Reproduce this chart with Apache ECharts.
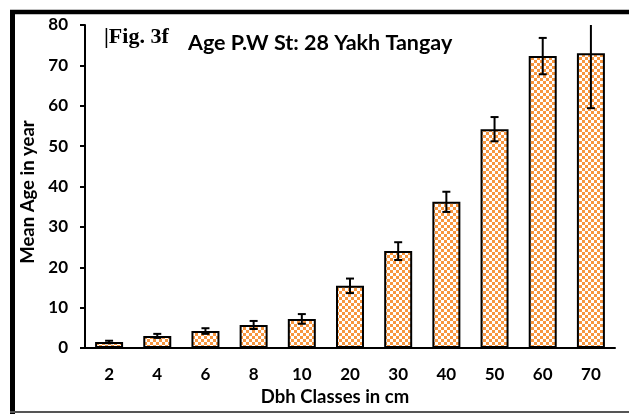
<!DOCTYPE html>
<html>
<head>
<meta charset="utf-8">
<script src="https://cdn.jsdelivr.net/npm/echarts@6/dist/echarts.min.js"></script>
<style>
html, body { margin: 0; padding: 0; background: #fff; }
#main { width: 629px; height: 414px; }
</style>
</head>
<body>
<div id="main"></div>
<script>
var classes = ['2', '4', '6', '8', '10', '20', '30', '40', '50', '60', '70'];
var meanAge = [1.5, 3.0, 4.2, 5.7, 7.2, 15.4, 24.0, 36.2, 54.2, 72.3, 73.0];
var errAge = [0.3, 0.5, 0.7, 1.0, 1.2, 1.8, 2.2, 2.5, 3.0, 4.5, 13.6];

// checkered orange fill like the excel pattern
var pat = document.createElement('canvas');
pat.width = 6; pat.height = 6;
var ctx = pat.getContext('2d');
ctx.fillStyle = '#ffffff';
ctx.fillRect(0, 0, 6, 6);
ctx.fillStyle = '#f7963f';
ctx.fillRect(0, 0, 3, 3);
ctx.fillRect(3, 3, 3, 3);

var errData = classes.map(function (c, i) {
    return [i, meanAge[i] - errAge[i], meanAge[i] + errAge[i]];
});

var myChart = echarts.init(document.getElementById('main'));

var option = {
    animation: false,
    backgroundColor: '#fff',
    grid: {
        left: 85,
        right: 14,
        top: 25,
        bottom: 66
    },
    graphic: [
        { type: 'line', shape: { x1: 10, y1: 12, x2: 629, y2: 12 }, style: { stroke: '#000', lineWidth: 4.5 }, z: 100 },
        { type: 'line', shape: { x1: 12.5, y1: 10, x2: 12.5, y2: 414 }, style: { stroke: '#000', lineWidth: 5 }, z: 100 },
        { type: 'line', shape: { x1: 10, y1: 412, x2: 629, y2: 412 }, style: { stroke: '#555', lineWidth: 2 }, z: 101 },
        { type: 'text', left: 104, top: 26, style: { text: '|Fig. 3f', font: 'bold 22px "Liberation Serif"', fill: '#000' } },
        { type: 'text', left: 188, top: 32, style: { text: 'Age P.W St: 28 Yakh Tangay', font: 'bold 21.5px Lato', fill: '#000' } }
    ],
    xAxis: {
        type: 'category',
        data: classes,
        name: 'Dbh Classes in cm',
        nameLocation: 'middle',
        nameGap: 40,
        nameTextStyle: { fontFamily: 'Lato', fontWeight: 'bold', fontSize: 18.5, color: '#000', padding: [0, 30, 0, 0] },
        axisLine: { lineStyle: { color: '#000', width: 2 } },
        axisTick: { show: false },
        axisLabel: { fontFamily: 'Lato', fontWeight: 'bold', fontSize: 17, color: '#000', margin: 18 }
    },
    yAxis: {
        type: 'value',
        min: 0,
        max: 80,
        interval: 10,
        name: 'Mean Age in year',
        nameLocation: 'middle',
        nameGap: 43,
        nameTextStyle: { fontFamily: 'Lato', fontWeight: 'bold', fontSize: 18.5, color: '#000', padding: [0, 11, 0, 0] },
        axisLine: { show: true, lineStyle: { color: '#000', width: 2 } },
        axisTick: { show: true, length: 5, inside: false, lineStyle: { color: '#000', width: 2 } },
        splitLine: { show: false },
        axisLabel: { fontFamily: 'Lato', fontWeight: 'bold', fontSize: 17, color: '#000', margin: 17 }
    },
    series: [{
        name: 'Mean Age',
        type: 'bar',
        data: meanAge,
        barWidth: 28,
        itemStyle: {
            color: { image: pat, repeat: 'repeat' },
            borderColor: '#000',
            borderWidth: 2
        }
    }, {
        type: 'custom',
        data: errData,
        clip: true,
        z: 10,
        renderItem: function (params, api) {
            var lo = api.coord([api.value(0), api.value(1)]);
            var hi = api.coord([api.value(0), api.value(2)]);
            var hw = 4;
            var st = { stroke: '#000', lineWidth: 2 };
            return {
                type: 'group',
                children: [
                    { type: 'line', shape: { x1: lo[0], y1: lo[1], x2: hi[0], y2: hi[1] }, style: st },
                    { type: 'line', shape: { x1: lo[0] - hw, y1: lo[1], x2: lo[0] + hw, y2: lo[1] }, style: st },
                    { type: 'line', shape: { x1: hi[0] - hw, y1: hi[1], x2: hi[0] + hw, y2: hi[1] }, style: st }
                ]
            };
        }
    }]
};

myChart.setOption(option);
</script>
</body>
</html>
